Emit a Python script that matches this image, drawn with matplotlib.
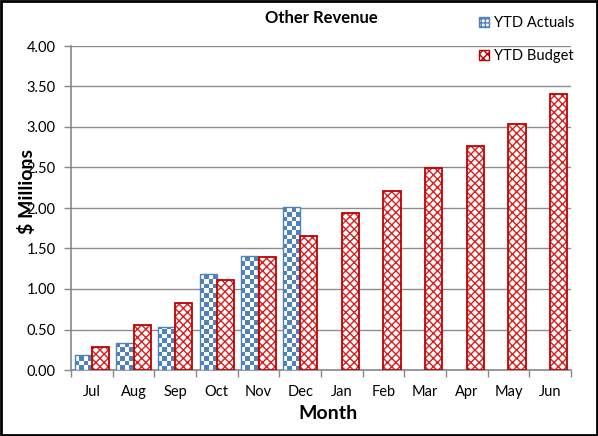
import matplotlib.pyplot as plt
import matplotlib.patches as mpatches
import numpy as np

plt.rcParams['font.family'] = ['Lato', 'DejaVu Sans']
plt.rcParams['hatch.linewidth'] = 1.0

months = ['Jul', 'Aug', 'Sep', 'Oct', 'Nov', 'Dec',
          'Jan', 'Feb', 'Mar', 'Apr', 'May', 'Jun']
ytd_actuals = [0.19, 0.33, 0.53, 1.19, 1.41, 2.01]
ytd_budget = [0.28, 0.56, 0.83, 1.11, 1.39, 1.66,
              1.94, 2.21, 2.49, 2.76, 3.04, 3.41]
y_ticks = [0.0, 0.5, 1.0, 1.5, 2.0, 2.5, 3.0, 3.5, 4.0]

blue = '#4f81bd'
red = '#c00000'

fig = plt.figure(figsize=(5.98, 4.36), dpi=100)
ax = fig.add_axes([71 / 598, 66 / 436, 500 / 598, 324 / 436])

x = np.arange(len(months))
w = 0.41
act_bars = ax.bar(x[:len(ytd_actuals)] - w / 2, ytd_actuals, w,
                  facecolor='none', edgecolor=blue, linewidth=1.0, zorder=3)
bud_bars = ax.bar(x + w / 2, ytd_budget, w, facecolor='white',
                  edgecolor=red, linewidth=1.3, hatch='xxxx', zorder=3)
for b in bud_bars:
    b._hatch_color = (0.86, 0.12, 0.12, 1.0)

ax.set_xlim(-0.5, 11.5)
ax.set_ylim(0, 4.0)

# checkerboard fill for the actuals, clipped to each bar
sq = 4.5
cmap = plt.matplotlib.colors.ListedColormap(['white', blue])
for b in act_bars:
    bx, by = b.get_x(), b.get_y()
    bw, bh = b.get_width(), b.get_height()
    p0 = ax.transData.transform((bx, by))
    p1 = ax.transData.transform((bx + bw, by + bh))
    nx = max(1, int(round((p1[0] - p0[0]) / sq)))
    ny = max(1, int(np.ceil((p1[1] - p0[1]) / sq)))
    board = (np.add.outer(np.arange(ny), np.arange(nx)) % 2)
    top = by + ny * sq * bh / (p1[1] - p0[1])
    im = ax.imshow(board, cmap=cmap, extent=(bx, bx + bw, by, top),
                   origin='lower', aspect='auto', interpolation='nearest', zorder=2.9)
    im.set_clip_path(b)

ax.set_xlim(-0.5, 11.5)
ax.set_ylim(0, 4.0)

ax.set_yticks(y_ticks)
ax.set_yticklabels(['%.2f' % v for v in y_ticks], fontsize=10.5)
ax.set_xticks(np.arange(-0.5, 12, 1.0))
ax.set_xticklabels([])
ax.set_xticks(x, minor=True)
ax.set_xticklabels(months, minor=True, fontsize=10.5)
ax.tick_params(axis='x', which='minor', length=0, pad=11)
ax.tick_params(axis='x', which='major', length=5, color='#888888', width=1)
ax.tick_params(axis='y', length=5, color='#888888', width=1, pad=6)

ax.grid(axis='y', color='#8c8c8c', linewidth=1.0, zorder=0)
ax.set_axisbelow(True)
for s in ['top', 'right']:
    ax.spines[s].set_visible(False)
ax.spines['left'].set_color('#888888')
ax.spines['bottom'].set_color('#888888')
ax.spines['left'].set_linewidth(1.2)
ax.spines['bottom'].set_linewidth(1.2)

fig.text(328 / 598, 1 - 413 / 436, 'Month', ha='center', va='center',
         fontsize=14, fontweight='bold')
fig.text(27 / 598, 1 - 191 / 436, '$ Millions', ha='center', va='center',
         rotation=90, fontsize=14, fontweight='bold')
fig.text(321 / 598, 1 - 18 / 436, 'Other Revenue', ha='center', va='center',
         fontsize=12, fontweight='bold')

h_act = mpatches.Patch(facecolor='white', edgecolor=blue, hatch='++++', linewidth=1)
h_bud = mpatches.Patch(facecolor='white', edgecolor=red, hatch='xxxx', linewidth=1)
fig.legend([h_act, h_bud], ['YTD Actuals', 'YTD Budget'],
           loc='upper right', bbox_to_anchor=(580 / 598, 1 - 10 / 436),
           frameon=False, fontsize=10.5, handlelength=0.7, handleheight=0.7,
           handletextpad=0.3, labelspacing=1.3, borderaxespad=0)

fig.add_artist(mpatches.Rectangle((0.002, 0.002), 0.996, 0.996, transform=fig.transFigure,
                                  fill=False, edgecolor='black', linewidth=2))

fig.savefig('out.png', dpi=100)
